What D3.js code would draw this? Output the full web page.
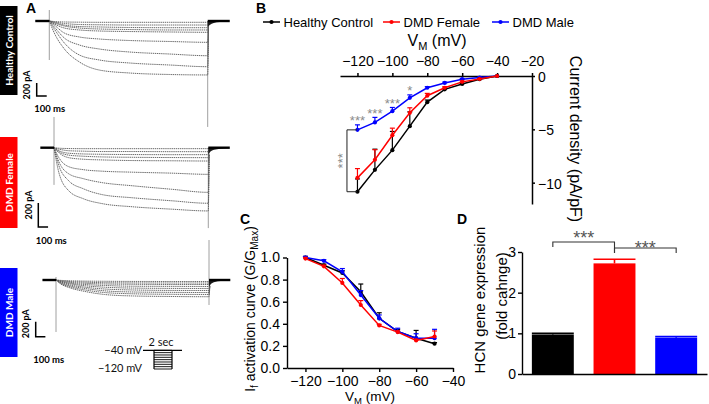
<!DOCTYPE html>
<html><head><meta charset="utf-8">
<script src="https://cdn.jsdelivr.net/npm/d3@7"></script>
<style>body{margin:0;background:#fff}svg{display:block}</style>
</head><body>
<svg id="fig" width="709" height="404"></svg>
<script>
// ---------------- DATA ----------------
const groups = ["Healthy Control", "DMD Female", "DMD Male"];
const groupColors = ["#000000", "#ff0000", "#0000ff"];

// Panel A: whole-cell traces (pA, inward negative), sampled at traceTimes (ms after step onset)
const stepVoltages = [-120, -110, -100, -90, -80, -70, -60, -50, -40];
const traceTimes = [0, 50, 150, 300, 500, 800, 1200, 1580];
const tailTimes = [0, 20, 60, 120, 220];
const healthyTraces = [
  [0, -185, -430, -630, -755, -800, -823, -830],
  [0, -123, -338, -523, -600, -646, -677, -703],
  [0, -92, -262, -369, -431, -477, -508, -534],
  [0, -62, -185, -246, -277, -300, -315, -328],
  [0, -46, -108, -138, -154, -162, -169, -174],
  [0, -31, -77, -108, -123, -131, -138, -138],
  [0, -23, -62, -85, -92, -100, -103, -103],
  [0, -15, -38, -54, -58, -62, -62, -62],
  [0, -8, -15, -18, -20, -20, -20, -20]
];
const femaleTraces = [
  [0, -208, -358, -425, -467, -492, -512, -527],
  [0, -150, -275, -342, -392, -417, -442, -463],
  [0, -117, -217, -258, -292, -317, -346, -372],
  [0, -83, -158, -183, -196, -204, -212, -222],
  [0, -42, -83, -96, -102, -107, -109, -111],
  [0, -33, -62, -71, -77, -80, -82, -83],
  [0, -25, -46, -52, -55, -57, -58, -58],
  [0, -12, -25, -29, -32, -32, -33, -33],
  [0, -4, -7, -8, -8, -8, -8, -8]
];
const maleTraces = [
  [0, -53, -107, -153, -193, -213, -220, -223],
  [0, -47, -93, -133, -167, -184, -191, -193],
  [0, -40, -80, -113, -144, -160, -165, -167],
  [0, -33, -67, -96, -120, -133, -139, -140],
  [0, -27, -53, -77, -96, -108, -112, -113],
  [0, -21, -43, -60, -73, -83, -85, -87],
  [0, -16, -32, -44, -53, -57, -60, -60],
  [0, -11, -21, -29, -36, -39, -40, -40],
  [0, -5, -11, -15, -17, -19, -20, -20]
];
const healthyTail = [-92, -62, -31, -15, 0];
const femaleTail = [-58, -33, -17, -8, 0];
const maleTail = [-89, -53, -27, -13, 0];
const healthySpikes = { on: [169, -600], off: [0, -1630] };
const femaleSpikes = { on: [256, -310], off: [0, -670] };
const maleSpikes = { on: [40, -693], off: [533, -333] };

// Panel B: I-V current density (pA/pF)
const ivVoltages = [-120, -110, -100, -90, -80, -70, -60, -50, -40];
const ivHealthy = [-10.85, -8.8, -6.95, -4.7, -2.45, -1.25, -0.75, -0.3, 0];
const ivHealthyErr = [1.2, 1.94, 1.75, 1.34, 0.2, 0.1, 0.05, 0.05, 0];
const ivFemale = [-9.55, -7.85, -5.55, -3.45, -1.85, -1.1, -0.55, -0.28, 0];
const ivFemaleErr = [0.87, 0.94, 0.66, 0.47, 0.22, 0.1, 0.08, 0.05, 0];
const ivMale = [-5.05, -4.35, -3.3, -2.05, -1.1, -0.65, -0.3, -0.15, 0];
const ivMaleErr = [0.47, 0.47, 0.35, 0.28, 0.1, 0.08, 0.05, 0.05, 0];
const ivSig = [
  { v: -120, label: "***" }, { v: -110, label: "***" },
  { v: -100, label: "***" }, { v: -90, label: "*" }
];
const ivTicksX = [-120, -100, -80, -60, -40, -20];
const ivTicksY = [0, -5, -10];

// Panel C: activation curve G/Gmax
const actVoltages = [-120, -110, -100, -90, -80, -70, -60, -50];
const actHealthy = [1.0, 0.93, 0.86, 0.69, 0.45, 0.33, 0.27, 0.22];
const actHealthyErr = [0.01, 0.01, 0.02, 0.07, 0.05, 0.02, 0.07, 0.01];
const actFemale = [0.99, 0.92, 0.77, 0.57, 0.385, 0.325, 0.25, 0.285];
const actFemaleErr = [0.01, 0.01, 0.04, 0.04, 0.01, 0.01, 0.01, 0.05];
const actMale = [1.0, 0.97, 0.87, 0.66, 0.45, 0.33, 0.27, 0.27];
const actMaleErr = [0.01, 0.01, 0.03, 0.04, 0.03, 0.03, 0.04, 0.08];
const actTicksX = [-120, -100, -80, -60, -40];
const actTicksY = [0, 0.2, 0.4, 0.6, 0.8, 1.0];

// Panel D: HCN expression
const hcnValues = [0.97, 2.72, 0.89];
const hcnErr = [0.03, 0.1, 0.03];
const hcnTicks = [0, 1, 2, 3];
const hcnSig = [{ a: 0, b: 1, label: "***" }, { a: 1, b: 2, label: "***" }];

// ---------------- DRAW ----------------
const svg = d3.select("#fig");
const FONT = "'Liberation Sans', Arial, sans-serif";
const LFONT = "Lato, 'Liberation Sans', Arial, sans-serif";

function panelLetter(txt, x, y) {
  svg.append("text").attr("x", x).attr("y", y).text(txt)
    .attr("font-family", FONT).attr("font-weight", "bold").attr("font-size", 14).attr("fill", "#000");
}
panelLetter("A", 26, 13);
panelLetter("B", 256, 13);
panelLetter("C", 240, 224);
panelLetter("D", 457, 224);

// ---- Panel A ----
function tracePanel(p) {
  const g = svg.append("g");
  const tEnd = traceTimes[traceTimes.length - 1];
  const t = d3.scaleLinear([0, tEnd], [p.x0, p.x1]);
  const c = d3.scaleLinear([0, -200], [p.y0, p.y0 + p.px200]);
  // capacitive transients
  g.append("line").attr("x1", t(0)).attr("x2", t(0))
    .attr("y1", c(p.spikes.on[0])).attr("y2", c(p.spikes.on[1]))
    .attr("stroke", "#888").attr("stroke-width", 0.8);
  g.append("line").attr("x1", t(tEnd)).attr("x2", t(tEnd))
    .attr("y1", c(p.spikes.off[0])).attr("y2", c(p.spikes.off[1]))
    .attr("stroke", "#888").attr("stroke-width", 0.8);
  const line = d3.line().x(d => t(d[0])).y(d => c(d[1])).curve(d3.curveMonotoneX);
  p.traces.forEach(tr => {
    const pts = traceTimes.map((tt, i) => [tt, tr[i]]);
    pts.push([tEnd + 8, p.tail[0]]);
    g.append("path").attr("d", line(pts)).attr("fill", "none")
      .attr("stroke", "#5a5a5a").attr("stroke-width", 0.9)
      .attr("stroke-dasharray", "1.4,0.7");
  });
  // pre-step holding current
  g.append("line").attr("x1", t(-140)).attr("x2", t(0)).attr("y1", c(0)).attr("y2", c(0))
    .attr("stroke", "#000").attr("stroke-width", 2.4);
  // tail currents
  const area = d3.area().x(d => t(tEnd + d[0])).y0(c(0)).y1(d => c(d[1])).curve(d3.curveMonotoneX);
  g.append("path").attr("d", area(tailTimes.map((tt, i) => [tt, p.tail[i]]))).attr("fill", "#1a1a1a");
  g.append("line").attr("x1", t(tEnd)).attr("x2", t(tEnd + 220)).attr("y1", c(0)).attr("y2", c(0))
    .attr("stroke", "#000").attr("stroke-width", 2.4);
  // scale bar
  const [cx, cy] = p.corner;
  const barH = c(-200) - c(0), barW = t(100) - t(0);
  g.append("path").attr("d", `M${cx},${cy - barH}V${cy}H${cx + barW}`)
    .attr("fill", "none").attr("stroke", "#000").attr("stroke-width", 1.5);
  g.append("text").attr("transform", `translate(${cx - 6.5},${cy - barH + 2}) rotate(-90)`)
    .attr("text-anchor", "middle").text("200 pA")
    .attr("font-family", LFONT).attr("font-weight", "bold").attr("font-size", 9);
  g.append("text").attr("x", cx - 2.5).attr("y", cy + p.msDy).text("100 ms")
    .attr("font-family", LFONT).attr("font-weight", "bold").attr("font-size", 9.5);
  // label box
  g.append("rect").attr("x", 0).attr("y", p.box[0]).attr("width", 17.5).attr("height", p.box[1] - p.box[0])
    .attr("fill", p.color);
  g.append("text").attr("transform", `translate(12.5,${(p.box[0] + p.box[1]) / 2}) rotate(-90)`)
    .attr("text-anchor", "middle").text(p.name).attr("fill", "#fff")
    .attr("font-family", LFONT).attr("font-weight", "bold").attr("font-size", 10);
}
tracePanel({ name: groups[0], color: groupColors[0], traces: healthyTraces, tail: healthyTail, spikes: healthySpikes,
  x0: 49.3, x1: 207.7, y0: 21, px200: 13, corner: [36.7, 96], msDy: 15.5, box: [6, 95] });
tracePanel({ name: groups[1], color: groupColors[1], traces: femaleTraces, tail: femaleTail, spikes: femaleSpikes,
  x0: 54, x1: 208.3, y0: 147.7, px200: 24, corner: [38.3, 227], msDy: 17, box: [137, 228] });
tracePanel({ name: groups[2], color: groupColors[2], traces: maleTraces, tail: maleTail, spikes: maleSpikes,
  x0: 56, x1: 209, y0: 280, px200: 15, corner: [35.7, 336.7], msDy: 26, box: [268, 357] });

// voltage protocol
(function () {
  const g = svg.append("g");
  const vp = d3.scaleLinear([-40, -120], [350.3, 369]);
  const xa = 154, xb = 172;
  g.append("line").attr("x1", 143).attr("x2", 182).attr("y1", vp(-40)).attr("y2", vp(-40))
    .attr("stroke", "#000").attr("stroke-width", 1.2);
  stepVoltages.forEach(v => {
    g.append("line").attr("x1", xa).attr("x2", xb).attr("y1", vp(v)).attr("y2", vp(v))
      .attr("stroke", "#000").attr("stroke-width", 0.9);
  });
  [xa, xb].forEach(x => g.append("line").attr("x1", x).attr("x2", x)
    .attr("y1", vp(-40)).attr("y2", vp(-120)).attr("stroke", "#000").attr("stroke-width", 1.2));
  const tf = s => s.attr("font-family", LFONT).attr("font-size", 11).attr("fill", "#111");
  tf(g.append("text").attr("x", 161).attr("y", 346).attr("text-anchor", "middle").text("2 sec"));
  tf(g.append("text").attr("x", 142).attr("y", vp(-40) + 4).attr("text-anchor", "end").text("\u221240 mV"));
  tf(g.append("text").attr("x", 142).attr("y", vp(-120) + 3).attr("text-anchor", "end").text("\u2212120 mV"));
})();

// ---- Panel B ----
(function () {
  const g = svg.append("g");
  const x = d3.scaleLinear([-130, -20], [340, 532]);
  const y = d3.scaleLinear([0, -12], [76, 204]);
  const ax = g.append("g").attr("transform", "translate(0,76)")
    .call(d3.axisTop(x).tickValues(ivTicksX).tickSize(3).tickSizeOuter(0).tickPadding(7));
  const ay = g.append("g").attr("transform", "translate(532,0)")
    .call(d3.axisRight(y).tickValues(ivTicksY).tickFormat(d3.format("d")).tickSize(3).tickSizeOuter(0).tickPadding(3));
  [ax, ay].forEach(a => {
    a.selectAll("path,line").attr("stroke", "#000").attr("stroke-width", 1.5);
    a.selectAll("text").attr("font-family", FONT).attr("font-size", 14).attr("fill", "#000");
  });
  ay.selectAll(".tick text").attr("dy", "0.4em");
  const series = [
    { v: ivMale, e: ivMaleErr, c: groupColors[2] },
    { v: ivHealthy, e: ivHealthyErr, c: groupColors[0] },
    { v: ivFemale, e: ivFemaleErr, c: groupColors[1] }
  ];
  const line = d3.line().x((d, i) => x(ivVoltages[i])).y(d => y(d));
  series.forEach(s => {
    g.append("path").attr("d", line(s.v)).attr("fill", "none").attr("stroke", s.c).attr("stroke-width", 1.5);
    s.v.forEach((d, i) => {
      const xx = x(ivVoltages[i]);
      if (s.e[i] > 0) {
        const top = y(d + s.e[i]);
        g.append("line").attr("x1", xx).attr("x2", xx).attr("y1", y(d)).attr("y2", top).attr("stroke", s.c).attr("stroke-width", 1.2);
        g.append("line").attr("x1", xx - 2.5).attr("x2", xx + 2.5).attr("y1", top).attr("y2", top).attr("stroke", s.c).attr("stroke-width", 1.2);
      }
      g.append("circle").attr("cx", xx).attr("cy", y(d)).attr("r", 2.1).attr("fill", s.c);
    });
  });
  // significance stars
  ivSig.forEach(s => {
    const i = ivVoltages.indexOf(s.v);
    g.append("text").attr("x", x(s.v)).attr("y", y(ivMale[i] + ivMaleErr[i]) + 0.5).attr("text-anchor", "middle")
      .text(s.label).attr("font-family", FONT).attr("font-size", 13).attr("fill", "#8a8a8a");
  });
  // bracket at -120
  const bx = x(-120) - 10.5, y1 = y(ivMale[0]), y2 = y(ivHealthy[0]);
  g.append("path").attr("d", `M${bx + 10},${y1}H${bx}V${y2}H${bx + 10}`).attr("fill", "none")
    .attr("stroke", "#222").attr("stroke-width", 1);
  g.append("text").attr("transform", `translate(${bx + 0.5},${(y1 + y2) / 2}) rotate(-90)`).attr("text-anchor", "middle")
    .text("***").attr("font-family", FONT).attr("font-size", 13).attr("fill", "#8a8a8a");
  // titles
  const xt = g.append("text").attr("x", 437).attr("y", 46).attr("text-anchor", "middle")
    .attr("font-family", FONT).attr("font-size", 16).attr("fill", "#000");
  xt.append("tspan").text("V");
  xt.append("tspan").text("M").attr("font-size", 11).attr("dy", 4);
  xt.append("tspan").text(" (mV)").attr("dy", -4);
  g.append("text").attr("transform", "translate(570,139) rotate(90)").attr("text-anchor", "middle")
    .text("Current density (pA/pF)").attr("font-family", FONT).attr("font-size", 16).attr("fill", "#000");
  // legend
  const lx = [263, 383, 492];
  groups.forEach((name, i) => {
    g.append("line").attr("x1", lx[i]).attr("x2", lx[i] + 17).attr("y1", 22).attr("y2", 22)
      .attr("stroke", groupColors[i]).attr("stroke-width", 1.5);
    g.append("circle").attr("cx", lx[i] + 8.5).attr("cy", 22).attr("r", 2.1).attr("fill", groupColors[i]);
    g.append("text").attr("x", lx[i] + 20.5).attr("y", 26.5).text(name)
      .attr("font-family", FONT).attr("font-size", 13).attr("fill", "#000");
  });
})();

// ---- Panel C ----
(function () {
  const g = svg.append("g");
  const x = d3.scaleLinear([-130, -40], [287, 453]);
  const y = d3.scaleLinear([0, 1], [368, 257.5]);
  const ax = g.append("g").attr("transform", "translate(0,368)")
    .call(d3.axisBottom(x).tickValues(actTicksX).tickSize(4).tickSizeOuter(0).tickPadding(4));
  const ay = g.append("g").attr("transform", "translate(287,0)")
    .call(d3.axisLeft(y).tickValues(actTicksY).tickFormat(d3.format(".1f")).tickSize(4).tickSizeOuter(0).tickPadding(3));
  [ax, ay].forEach(a => {
    a.selectAll("path,line").attr("stroke", "#000").attr("stroke-width", 1.4);
    a.selectAll("text").attr("font-family", FONT).attr("font-size", 14).attr("fill", "#000");
  });
  const series = [
    { v: actHealthy, e: actHealthyErr, c: groupColors[0] },
    { v: actMale, e: actMaleErr, c: groupColors[2] },
    { v: actFemale, e: actFemaleErr, c: groupColors[1] }
  ];
  const line = d3.line().x((d, i) => x(actVoltages[i])).y(d => y(d));
  series.forEach(s => {
    g.append("path").attr("d", line(s.v)).attr("fill", "none").attr("stroke", s.c).attr("stroke-width", 1.5);
    s.v.forEach((d, i) => {
      const xx = x(actVoltages[i]);
      const top = y(d + s.e[i]);
      g.append("line").attr("x1", xx).attr("x2", xx).attr("y1", y(d)).attr("y2", top).attr("stroke", s.c).attr("stroke-width", 1.2);
      g.append("line").attr("x1", xx - 2.5).attr("x2", xx + 2.5).attr("y1", top).attr("y2", top).attr("stroke", s.c).attr("stroke-width", 1.2);
      g.append("circle").attr("cx", xx).attr("cy", y(d)).attr("r", 2.1).attr("fill", s.c);
    });
  });
  const xt = g.append("text").attr("x", 370).attr("y", 401).attr("text-anchor", "middle")
    .attr("font-family", FONT).attr("font-size", 13.5).attr("fill", "#000");
  xt.append("tspan").text("V");
  xt.append("tspan").text("M").attr("font-size", 9.5).attr("dy", 2.5);
  xt.append("tspan").text(" (mV)").attr("dy", -2.5);
  const yt = g.append("text").attr("transform", "translate(255,309) rotate(-90)").attr("text-anchor", "middle")
    .attr("font-family", FONT).attr("font-size", 14).attr("fill", "#000");
  yt.append("tspan").text("I");
  yt.append("tspan").text("f").attr("font-size", 10).attr("dy", 3);
  yt.append("tspan").text(" activation curve (G/G").attr("dy", -3);
  yt.append("tspan").text("Max").attr("font-size", 10).attr("dy", 3);
  yt.append("tspan").text(")").attr("dy", -3);
})();

// ---- Panel D ----
(function () {
  const g = svg.append("g");
  const x = d3.scaleBand(groups, [522, 707]).paddingInner(0.32).paddingOuter(0.16);
  const y = d3.scaleLinear([0, 3], [374, 252]);
  const ay = g.append("g").attr("transform", "translate(522,0)")
    .call(d3.axisLeft(y).tickValues(hcnTicks).tickFormat(d3.format("d")).tickSize(4).tickSizeOuter(0).tickPadding(2));
  ay.selectAll("path,line").attr("stroke", "#000").attr("stroke-width", 1.4);
  ay.selectAll("text").attr("font-family", FONT).attr("font-size", 14).attr("fill", "#000");
  groups.forEach((gname, i) => {
    const x0 = x(gname), w = x.bandwidth();
    g.append("rect").attr("x", x0).attr("y", y(hcnValues[i])).attr("width", w)
      .attr("height", y(0) - y(hcnValues[i])).attr("fill", groupColors[i]);
    const top = y(hcnValues[i] + hcnErr[i]);
    g.append("line").attr("x1", x0 + w / 2).attr("x2", x0 + w / 2).attr("y1", y(hcnValues[i])).attr("y2", top)
      .attr("stroke", groupColors[i]).attr("stroke-width", 1.6);
    g.append("line").attr("x1", x0).attr("x2", x0 + w).attr("y1", top).attr("y2", top)
      .attr("stroke", groupColors[i]).attr("stroke-width", 1.6);
  });
  const ax = g.append("g").attr("transform", "translate(0,374)")
    .call(d3.axisBottom(x).tickSize(0).tickSizeOuter(0).tickFormat(""));
  ax.select("path").attr("stroke", "#000").attr("stroke-width", 1.4);
  // brackets
  const bTop = [242, 248], tickL = [247, 253], tickR = [253, 253], starY = [243.5, 253.5];
  hcnSig.forEach((s, k) => {
    const xa = x(groups[s.a]) + x.bandwidth() / 2, xb = x(groups[s.b]) + x.bandwidth() / 2;
    g.append("path").attr("d", `M${xa},${tickL[k]}V${bTop[k]}H${xb}V${tickR[k]}`).attr("fill", "none")
      .attr("stroke", "#333").attr("stroke-width", 1.1);
    g.append("text").attr("x", (xa + xb) / 2).attr("y", starY[k]).attr("text-anchor", "middle").text(s.label)
      .attr("font-family", FONT).attr("font-size", 18).attr("fill", "#555");
  });
  g.append("text").attr("transform", "translate(485,300) rotate(-90)").attr("text-anchor", "middle")
    .text("HCN gene expression").attr("font-family", FONT).attr("font-size", 15).attr("fill", "#000");
  g.append("text").attr("transform", "translate(507,296) rotate(-90)").attr("text-anchor", "middle")
    .text("(fold cahnge)").attr("font-family", FONT).attr("font-size", 15).attr("fill", "#000");
})();
</script>
</body></html>
